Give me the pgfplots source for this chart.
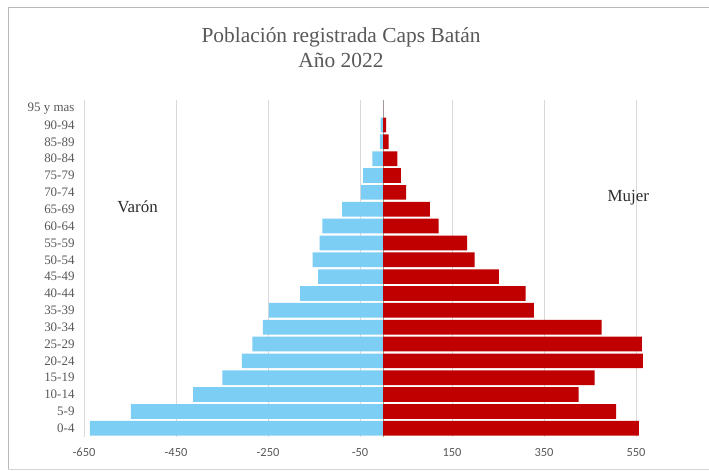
\documentclass[border=0pt]{standalone}
\usepackage{pgfplots}
\pgfplotsset{compat=1.18}
\usepackage{pgfplotstable}
\usepackage{fontspec}
\setmainfont{Liberation Serif}
\newfontfamily\carlito{Carlito}
\definecolor{maleblue}{RGB}{125,206,244}
\definecolor{femred}{RGB}{192,0,0}
\definecolor{txtgray}{RGB}{89,89,89}
\definecolor{gridgray}{RGB}{217,217,217}
\definecolor{framegray}{RGB}{185,185,185}
\definecolor{lbl}{RGB}{45,45,45}

\pgfplotstableread{
pos male female
0  -637 556
1  -548 507
2  -413 425
3  -349 460
4  -307 565
5  -284 563
6  -261 475
7  -248 328
8  -180 310
9  -141 252
10 -153 199
11 -138 183
12 -132 121
13 -89  102
14 -48  50
15 -43  39
16 -23  31
17 -7   12
18 -5   7
19 0    0
}\pyramid

\begin{document}
\begin{tikzpicture}
\useasboundingbox (0,0) rectangle (709bp,471bp);
\fill[white] (0,0) rectangle (709bp,471bp);
\draw[framegray, line width=1bp] (8bp,2bp) -- (8bp,463.5bp) -- (709bp,463.5bp);
\draw[framegray!60, line width=0.8bp] (8bp,2bp) -- (709bp,2bp);
\begin{axis}[
  at={(84bp,34.3bp)}, anchor=south west,
  scale only axis, width=598bp, height=337bp,
  xbar, bar width=0.87, bar shift=0pt,
  xmin=-650, xmax=650, ymin=-0.5, ymax=19.5,
  xtick={-650,-450,...,550},
  ytick={0,...,19},
  yticklabels={0-4,5-9,10-14,15-19,20-24,25-29,30-34,35-39,40-44,45-49,50-54,55-59,60-64,65-69,70-74,75-79,80-84,85-89,90-94,95 y mas},
  xmajorgrids, grid style={gridgray, line width=0.9bp},
  extra x ticks={0}, extra x tick labels={},
  extra x tick style={grid style={black!35, line width=0.9bp}},
  axis line style={draw=none}, major tick length=0pt,
  /pgf/number format/assume math mode=true,
  xticklabel style={font=\carlito\fontsize{12.5}{13}\selectfont, text=txtgray, yshift=-8bp},
  yticklabel style={font=\fontsize{13}{14}\selectfont, text=txtgray, xshift=-6bp},
  clip=false,
]
\addplot[fill=maleblue, draw=none] table[x=male, y=pos] {\pyramid};
\addplot[fill=femred, draw=none] table[x=female, y=pos] {\pyramid};
\end{axis}
\node[anchor=base, text=txtgray, font=\fontsize{21.5}{24}\selectfont] at (341bp,428.3bp) {Población registrada Caps Batán};
\node[anchor=base, text=txtgray, font=\fontsize{21.5}{24}\selectfont] at (341bp,403bp) {Año 2022};
\node[text=lbl, font=\fontsize{17}{19}\selectfont] at (137.5bp,264.3bp) {Varón};
\node[text=lbl, font=\fontsize{17}{19}\selectfont] at (628.3bp,273.7bp) {Mujer};
\end{tikzpicture}
\end{document}
